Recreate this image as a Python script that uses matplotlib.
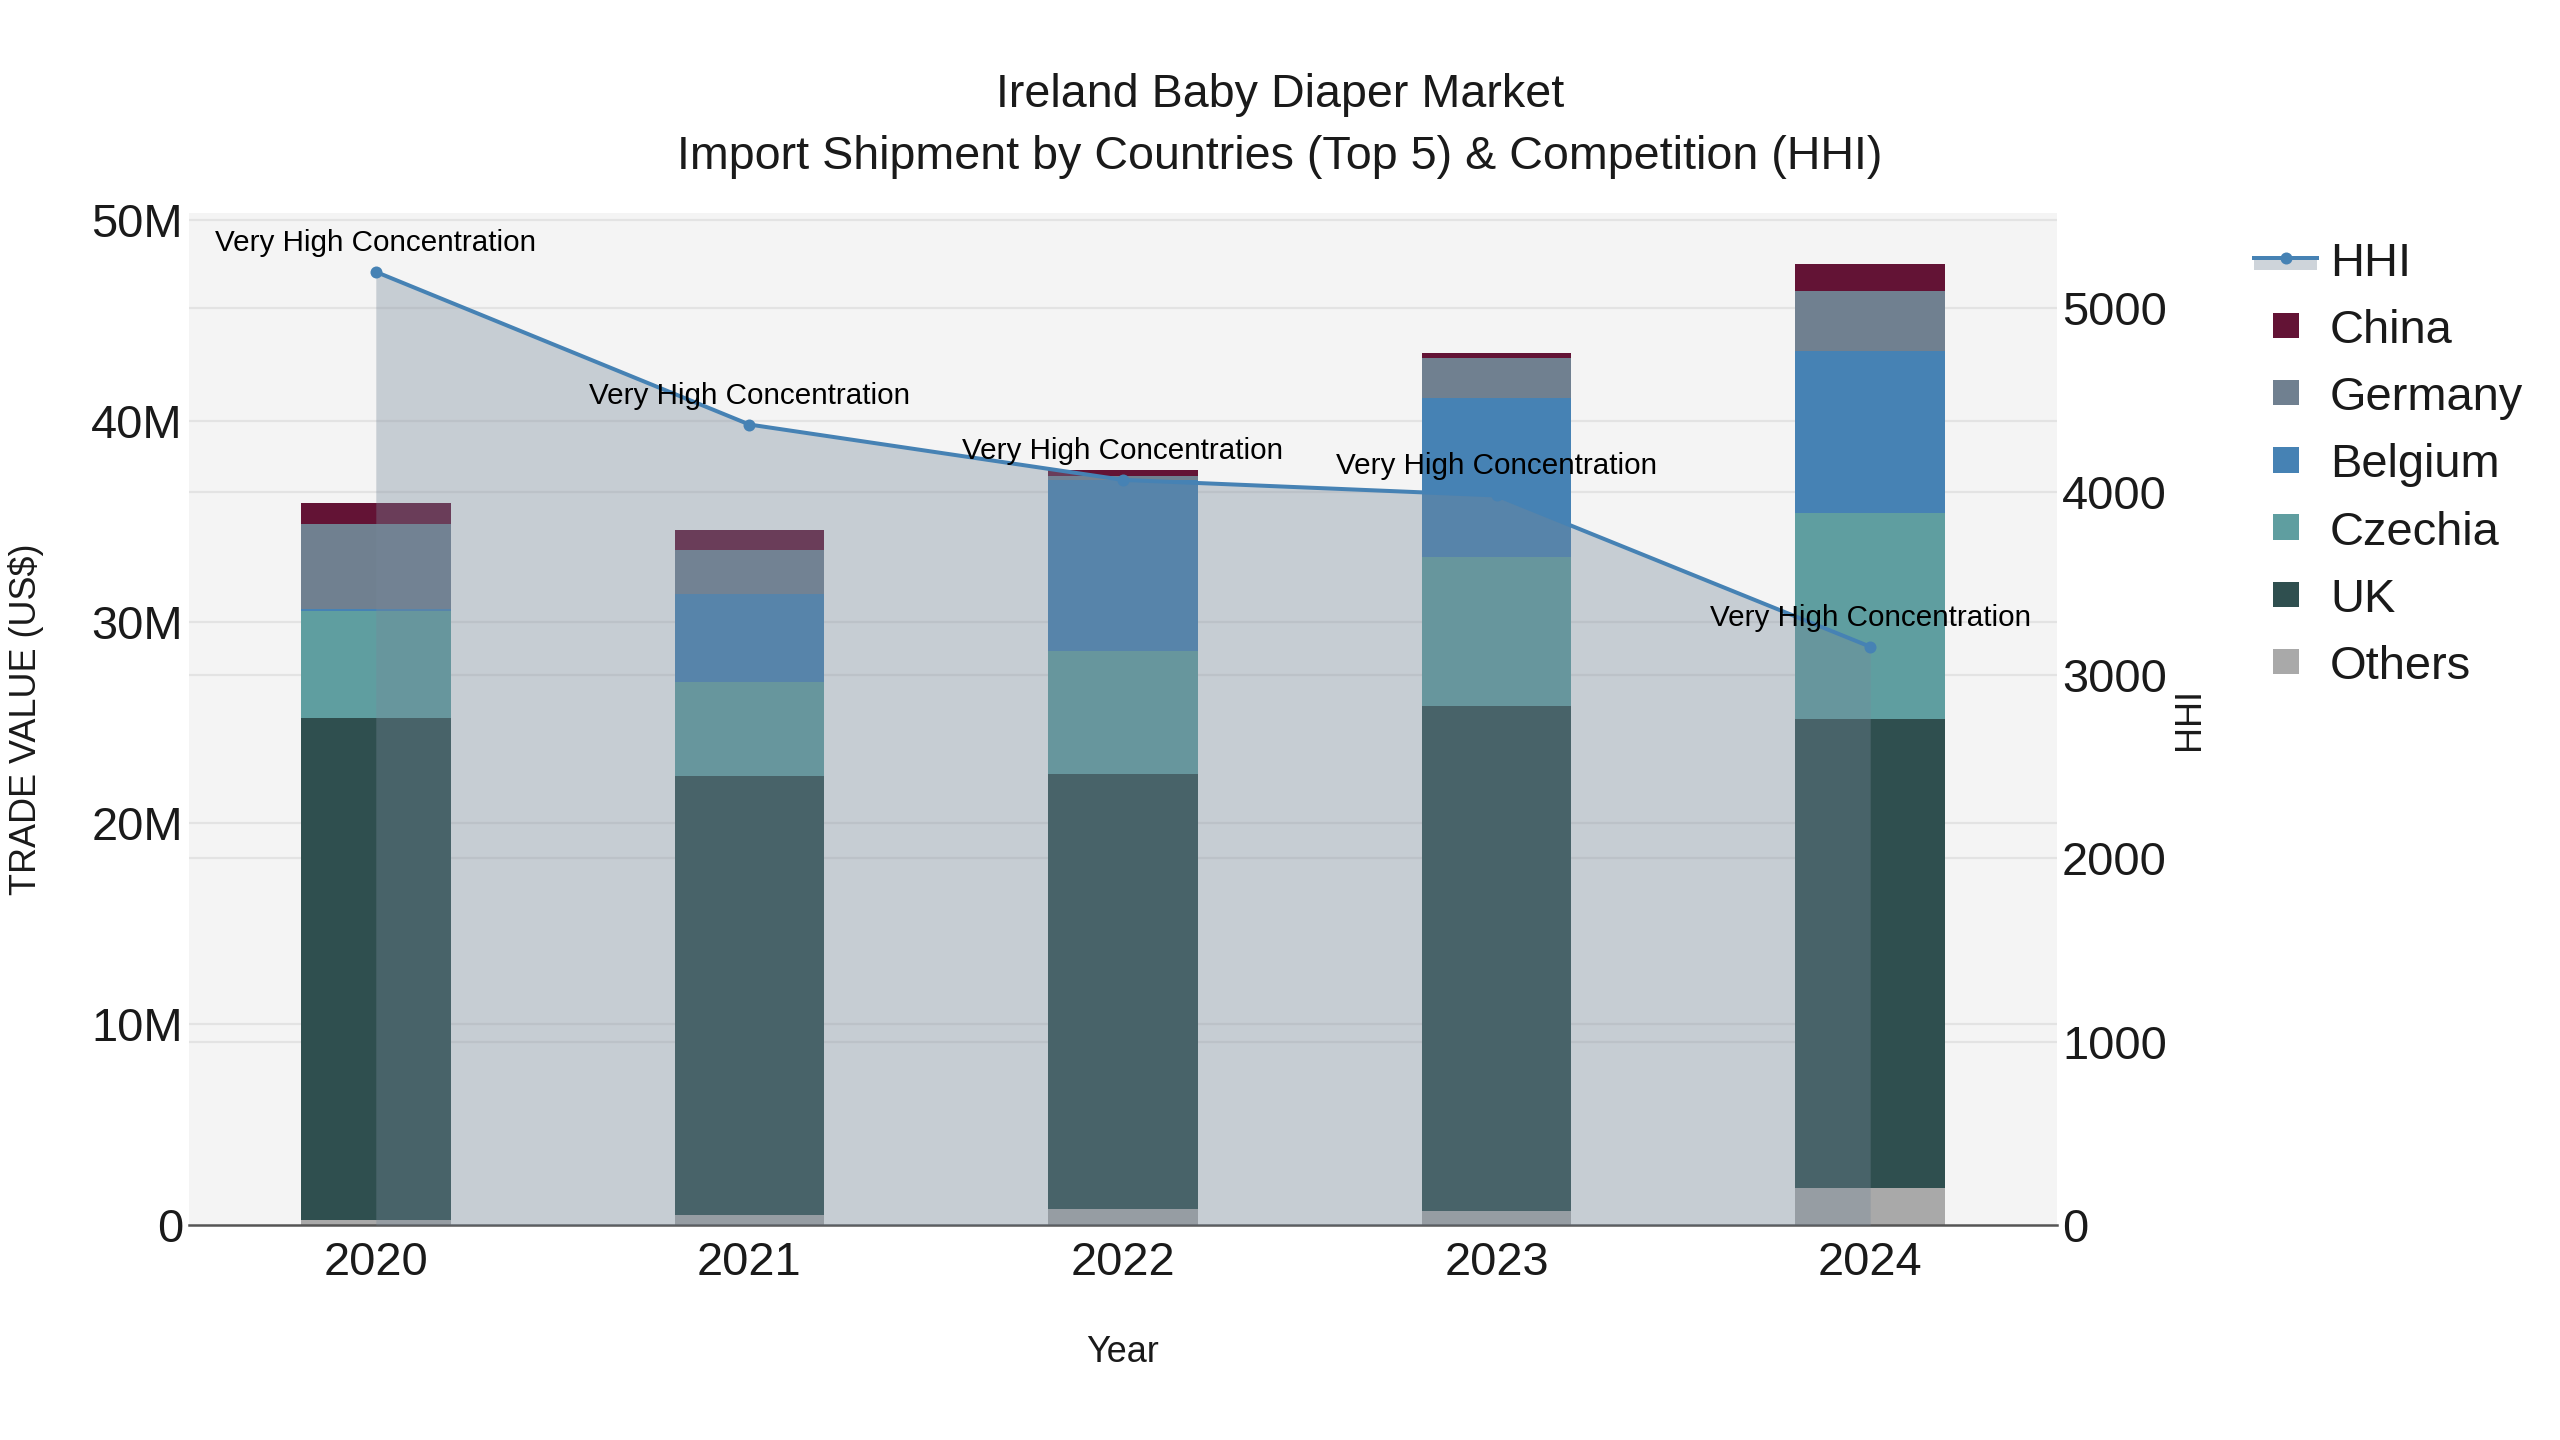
import matplotlib
matplotlib.use('Agg')
import matplotlib.pyplot as plt
import numpy as np
from matplotlib.patches import Rectangle
from matplotlib.lines import Line2D

# ---------------- data ----------------
years = ['2020', '2021', '2022', '2023', '2024']
# trade values in US$ millions
others = [0.25, 0.50, 0.79, 0.69, 1.86]
uk = [24.95, 21.85, 21.66, 25.15, 23.31]
czechia = [5.37, 4.65, 6.13, 7.40, 10.23]
belgium = [0.10, 4.40, 8.50, 7.90, 8.10]
germany = [4.21, 2.18, 0.20, 2.00, 2.97]
china = [1.02, 1.00, 0.26, 0.26, 1.36]
hhi = [5200, 4367, 4065, 3980, 3155]
hhi_text = ['Very High Concentration'] * 5

value_ticks = [0, 10e6, 20e6, 30e6, 40e6, 50e6]
value_tick_labels = ['0', '10M', '20M', '30M', '40M', '50M']
hhi_ticks = [0, 1000, 2000, 3000, 4000, 5000]
hhi_tick_labels = ['0', '1000', '2000', '3000', '4000', '5000']

title_line1 = 'Ireland Baby Diaper Market'
title_line2 = 'Import Shipment by Countries (Top 5) & Competition (HHI)'

# ---------------- style ----------------
W, H = 2560, 1440
DPI = 100
def pt(px):
    return px * 72.0 / DPI

plt.rcParams['font.family'] = ['Liberation Sans', 'DejaVu Sans']
TXT = '#1a1a1a'

stack_order = [('Others', others, '#A9A9A9'),
               ('UK', uk, '#2F4F4F'),
               ('Czechia', czechia, '#5F9EA0'),
               ('Belgium', belgium, '#4682B4'),
               ('Germany', germany, '#708090'),
               ('China', china, '#631335')]
line_color = '#4682B4'
fill_rgb = (119 / 255, 136 / 255, 153 / 255)
fill_alpha = 0.36

fig = plt.figure(figsize=(W / DPI, H / DPI), dpi=DPI, facecolor='white')
L, R, T, B = 189, 2057, 213, 1225
ax = fig.add_axes([L / W, 1 - B / H, (R - L) / W, (B - T) / H])
ax.set_facecolor('#F4F4F4')
ax2 = ax.twinx()

y1max = 50.35e6
y2max = 5521.0
x = np.arange(len(years))

# grids (both axes' grids drawn beneath the bars)
for v in value_ticks[1:]:
    ax.axhline(v, color='#E3E3E3', lw=pt(2.2), zorder=0.5)
for v in hhi_ticks[1:]:
    ax.axhline(v * y1max / y2max, color='#E3E3E3', lw=pt(2.2), zorder=0.5)

bottom = np.zeros(len(years))
for name, vals, col in stack_order:
    v = np.array(vals) * 1e6
    ax.bar(x, v, width=0.4, bottom=bottom, color=col, linewidth=0, zorder=2)
    bottom += v

ax.set_xlim(-0.5, len(years) - 0.5)
ax.set_ylim(0, y1max)
ax2.set_ylim(0, y2max)

# HHI fill + line on secondary axis
ax2.fill_between(x, 0, hhi, color=fill_rgb, alpha=fill_alpha, linewidth=0, zorder=1)
ax2.plot(x, hhi, color=line_color, lw=pt(4), marker='o', markersize=pt(12),
         markeredgewidth=0, zorder=3)
for xi, yi, t in zip(x, hhi, hhi_text):
    ax2.annotate(t, (xi, yi), xytext=(0, pt(29)), textcoords='offset points',
                 ha='center', va='center', fontsize=pt(29.6), color='black', zorder=4)

# axes styling
for a in (ax, ax2):
    for s in a.spines.values():
        s.set_visible(False)
ax.axhline(0, color='#555555', lw=pt(2.5), zorder=5, clip_on=False)

ax.set_xticks(x)
ax.set_xticklabels(years)
ax.set_yticks(value_ticks)
ax.set_yticklabels(value_tick_labels)
ax2.set_yticks(hhi_ticks)
ax2.set_yticklabels(hhi_tick_labels)
ax.tick_params(axis='x', length=0, pad=pt(16), labelsize=pt(47), labelcolor=TXT)
ax.tick_params(axis='y', length=0, pad=pt(6), labelsize=pt(47), labelcolor=TXT)
ax2.tick_params(axis='y', length=0, pad=pt(5), labelsize=pt(47), labelcolor=TXT)

ax.set_ylabel('TRADE VALUE (US$)', fontsize=pt(36), color=TXT, va='center')
ax.yaxis.set_label_coords((26 - L) / (R - L), 0.5)
ax2.set_ylabel('HHI', fontsize=pt(36), color=TXT, va='center', rotation=90)
ax2.yaxis.set_label_coords((2189 - L) / (R - L), 0.5)
ax.set_xlabel('Year', fontsize=pt(36), color=TXT, va='center')
ax.xaxis.set_label_coords(0.5, -(1353 - B) / (B - T))

# title
fig.text(0.5, 1 - 95 / H, title_line1, ha='center', va='center', fontsize=pt(46.7), color=TXT)
fig.text(0.5, 1 - 157 / H, title_line2, ha='center', va='center', fontsize=pt(46.7), color=TXT)

# legend (drawn in figure pixel space)
def fx(px):
    return px / W
def fy(py):
    return 1 - py / H

lx0, lx1, lxc = 2254, 2317, 2286
hy = 258
fig.add_artist(Rectangle((fx(lx0), fy(270)), (lx1 - lx0) / W, 10 / H,
                         transform=fig.transFigure, color=fill_rgb, alpha=fill_alpha, lw=0))
fig.add_artist(Line2D([fx(lx0), fx(lx1)], [fy(hy), fy(hy)], transform=fig.transFigure,
                      color=line_color, lw=pt(4)))
fig.add_artist(Line2D([fx(lxc)], [fy(hy)], transform=fig.transFigure, color=line_color,
                      marker='o', markersize=pt(12), markeredgewidth=0))
fig.text(fx(2330), fy(hy + 17.5), 'HHI', ha='left', va='baseline', fontsize=pt(47), color=TXT)

legend_items = list(reversed(stack_order))
for i, (name, vals, col) in enumerate(legend_items):
    cy = 325.2 + i * 67.3
    fig.add_artist(Rectangle((fx(lxc - 12.7), fy(cy + 12.7)), 25.4 / W, 25.4 / H,
                             transform=fig.transFigure, color=col, lw=0))
    fig.text(fx(2330), fy(cy + 17.5), name, ha='left', va='baseline', fontsize=pt(47), color=TXT)

fig.savefig('out.png', dpi=DPI, facecolor='white')
